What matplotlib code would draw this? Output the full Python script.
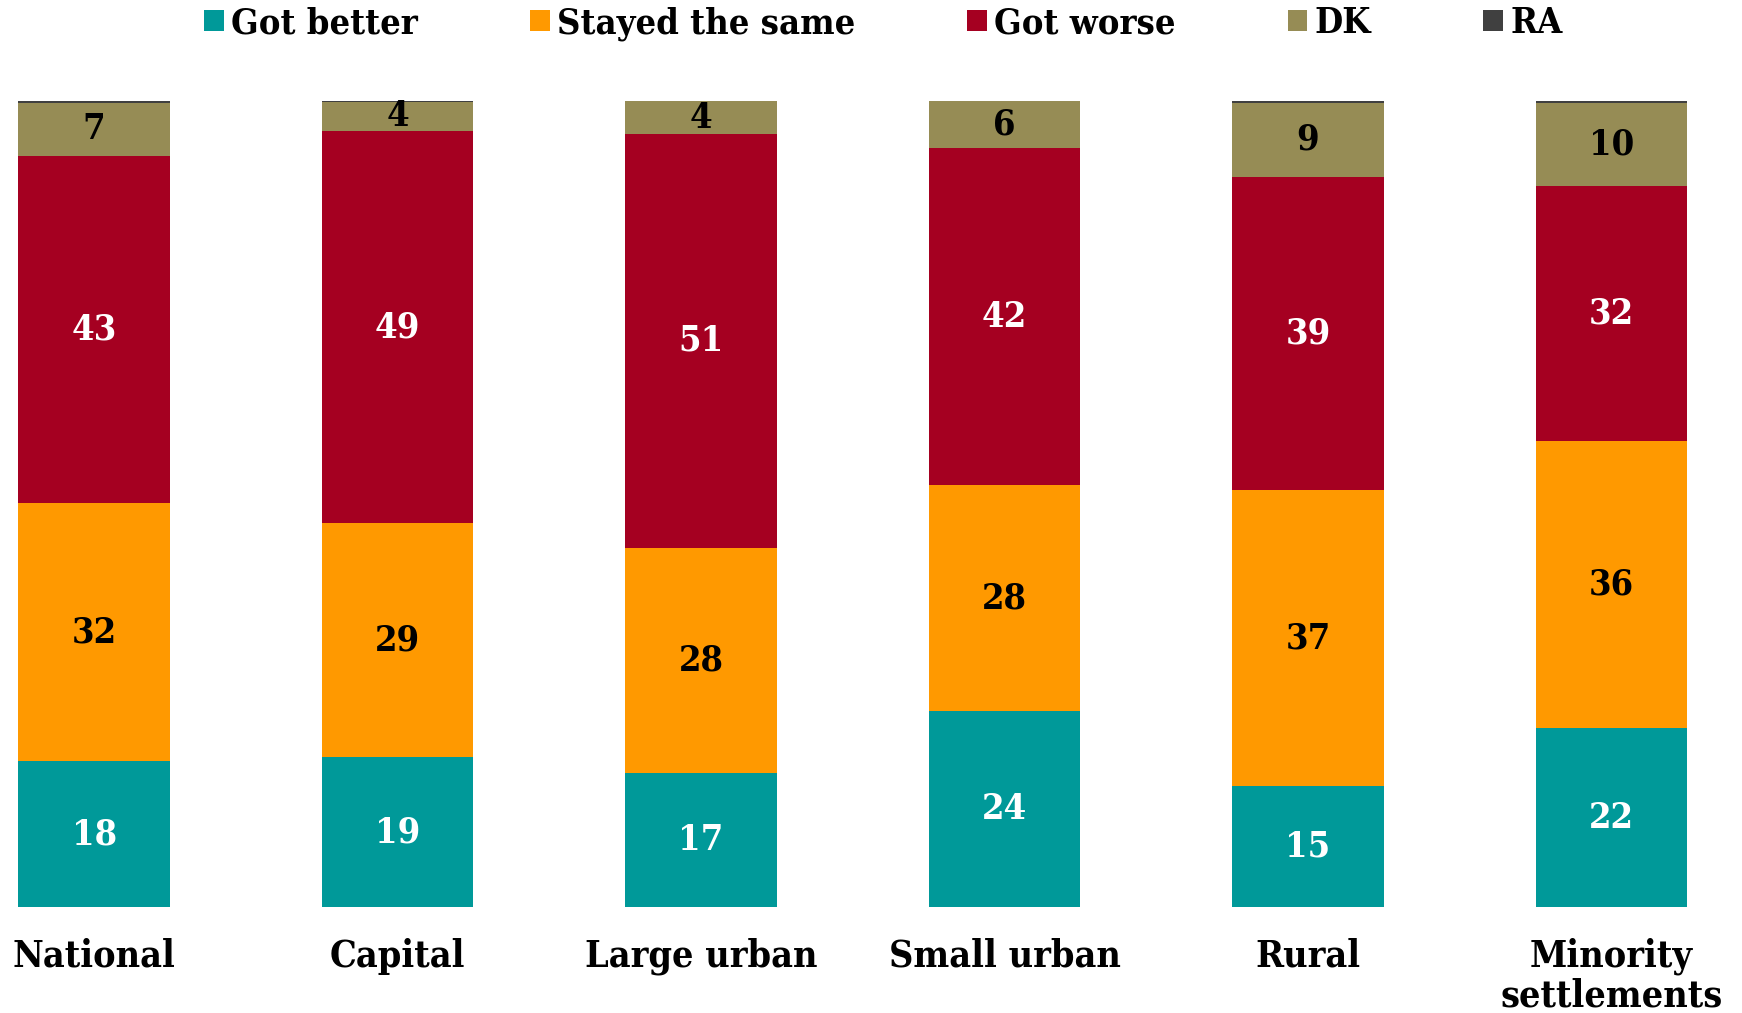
import numpy as np
import matplotlib
matplotlib.use("Agg")
import matplotlib.pyplot as plt

categories = ["National", "Capital", "Large urban", "Small urban", "Rural", "Minority\nsettlements"]
series_names = ["Got better", "Stayed the same", "Got worse", "DK", "RA"]
got_better = [18.1, 18.6, 16.6, 24.3, 15.0, 22.2]
stayed_same = [32.0, 29.0, 28.0, 28.0, 36.7, 35.6]
got_worse = [43.1, 48.7, 51.3, 41.9, 38.9, 31.6]
dk = [6.6, 3.6, 4.1, 5.8, 9.2, 10.4]
ra = [0.2, 0.2, 0.0, 0.0, 0.2, 0.2]

colors = ["#009999", "#FF9900", "#A50021", "#968C55", "#404040"]
label_colors = ["white", "black", "white", "black", None]

plt.rcParams["font.family"] = ["DejaVu Serif"]
plt.rcParams["font.weight"] = "bold"
plt.rcParams["font.stretch"] = "condensed"

fig = plt.figure(figsize=(17.42, 10.13), dpi=100)
ax = fig.add_axes([0, 0.1046, 1, 0.7957])

x = np.arange(len(categories))
width = 0.5
bottom = np.zeros(len(categories))
series = [got_better, stayed_same, got_worse, dk, ra]
for name, vals, col, lc in zip(series_names, series, colors, label_colors):
    vals = np.array(vals)
    ax.bar(x, vals, width, bottom=bottom, color=col, label=name)
    if lc is not None:
        for xi, b, v in zip(x, bottom, vals):
            ax.text(xi, b + v / 2, f"{v:.0f}", ha="center", va="center",
                    color=lc, fontsize=26, fontweight="bold")
    bottom += vals

ax.set_xlim(-0.31, 5.43)
ax.set_ylim(0, 100)
ax.set_xticks(x)
ax.set_xticklabels(categories, fontsize=27, fontweight="bold", linespacing=1.1)
ax.tick_params(axis="x", length=0, pad=22)
ax.set_yticks([])
for s in ax.spines.values():
    s.set_visible(False)

fig.legend(loc="upper center", bbox_to_anchor=(0.507, 1.026), ncol=5, frameon=False,
           prop={"size": 26, "weight": "bold", "stretch": "condensed"},
           handlelength=0.55, handleheight=0.55, handletextpad=0.2, columnspacing=3.1)

fig.savefig("out.png", dpi=100)
